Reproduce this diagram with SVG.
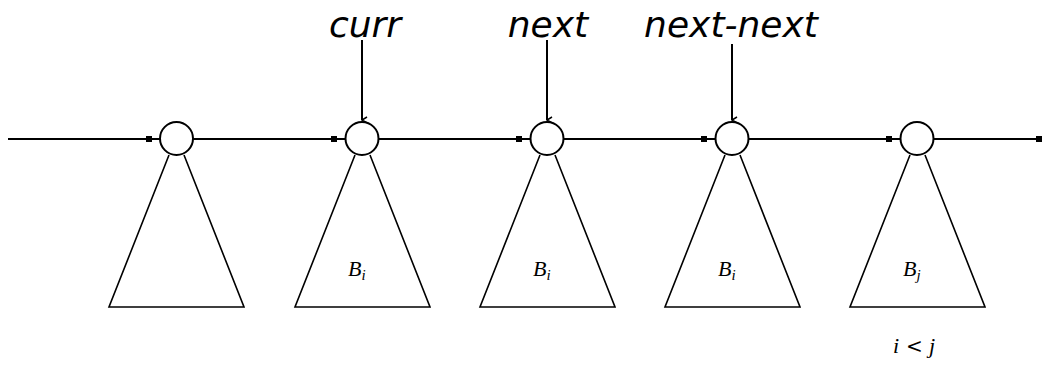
<svg xmlns="http://www.w3.org/2000/svg" width="1044" height="371" viewBox="0 0 1044 371">
  <style>
    .ln { stroke: #000; stroke-width: 2; fill: none; }
    .node { stroke: #000; stroke-width: 2; fill: #fff; }
    .tri { stroke: #000; stroke-width: 1.6; fill: none; }
    .ptr { font-family: "DejaVu Sans", sans-serif; font-style: italic; font-size: 36px; fill: #000; text-anchor: middle; }
    .math { font-family: "Liberation Serif", serif; font-style: italic; font-size: 22px; fill: #000; }
    .op { font-family: "DejaVu Serif", serif; font-style: normal; font-size: 20px; fill: #000; }
  </style>
  <defs>
    <marker id="head" markerWidth="8" markerHeight="8" refX="4" refY="7" orient="auto" markerUnits="userSpaceOnUse">
      <path d="M1,2 L4,7 L7,2" fill="none" stroke="#000" stroke-width="1.5"/>
    </marker>
    <rect id="dot" x="-3" y="-3" width="6" height="6" fill="#000"/>
  </defs>

  <!-- root list links -->
  <g id="connectors">
    <line class="ln" x1="8" y1="139" x2="160" y2="139"/>
    <line class="ln" x1="193" y1="139" x2="345" y2="139"/>
    <line class="ln" x1="379" y1="139" x2="530" y2="139"/>
    <line class="ln" x1="564" y1="139" x2="715" y2="139"/>
    <line class="ln" x1="749" y1="139" x2="900" y2="139"/>
    <line class="ln" x1="934" y1="139" x2="1040" y2="139"/>
    <use href="#dot" x="149" y="139"/>
    <use href="#dot" x="334" y="139"/>
    <use href="#dot" x="519" y="139"/>
    <use href="#dot" x="704" y="139"/>
    <use href="#dot" x="889" y="139"/>
    <use href="#dot" x="1039" y="139"/>
    <line class="ln" x1="362" y1="40" x2="362" y2="120" marker-end="url(#head)"/>
    <line class="ln" x1="547" y1="40" x2="547" y2="120" marker-end="url(#head)"/>
    <line class="ln" x1="732" y1="44" x2="732" y2="120" marker-end="url(#head)"/>
  </g>

  <g id="tree1">
    <path class="tri" d="M169,155 L109,307 L244,307 L184,155"/>
    <circle class="node" cx="176.5" cy="138.5" r="16.5"/>
  </g>
  <g id="tree2">
    <path class="tri" d="M355,155 L295,307 L430,307 L370,155"/>
    <circle class="node" cx="362" cy="138.5" r="16.5"/>
    <text class="math" x="348" y="276">B<tspan font-size="15" dy="4">i</tspan></text>
  </g>
  <g id="tree3">
    <path class="tri" d="M540,155 L480,307 L615,307 L555,155"/>
    <circle class="node" cx="547" cy="138.5" r="16.5"/>
    <text class="math" x="533" y="276">B<tspan font-size="15" dy="4">i</tspan></text>
  </g>
  <g id="tree4">
    <path class="tri" d="M725,155 L665,307 L800,307 L740,155"/>
    <circle class="node" cx="732" cy="138.5" r="16.5"/>
    <text class="math" x="718" y="276">B<tspan font-size="15" dy="4">i</tspan></text>
  </g>
  <g id="tree5">
    <path class="tri" d="M910,155 L850,307 L985,307 L925,155"/>
    <circle class="node" cx="917" cy="138.5" r="16.5"/>
    <text class="math" x="903" y="276">B<tspan font-size="15" dy="4">j</tspan></text>
  </g>

  <g id="labels">
    <text class="ptr" x="365" y="37">curr</text>
    <text class="ptr" x="548" y="37">next</text>
    <text class="ptr" x="731" y="37">next-next</text>
    <text class="math" x="893" y="353">i<tspan class="op" x="906">&lt;</tspan><tspan x="929">j</tspan></text>
  </g>
</svg>
